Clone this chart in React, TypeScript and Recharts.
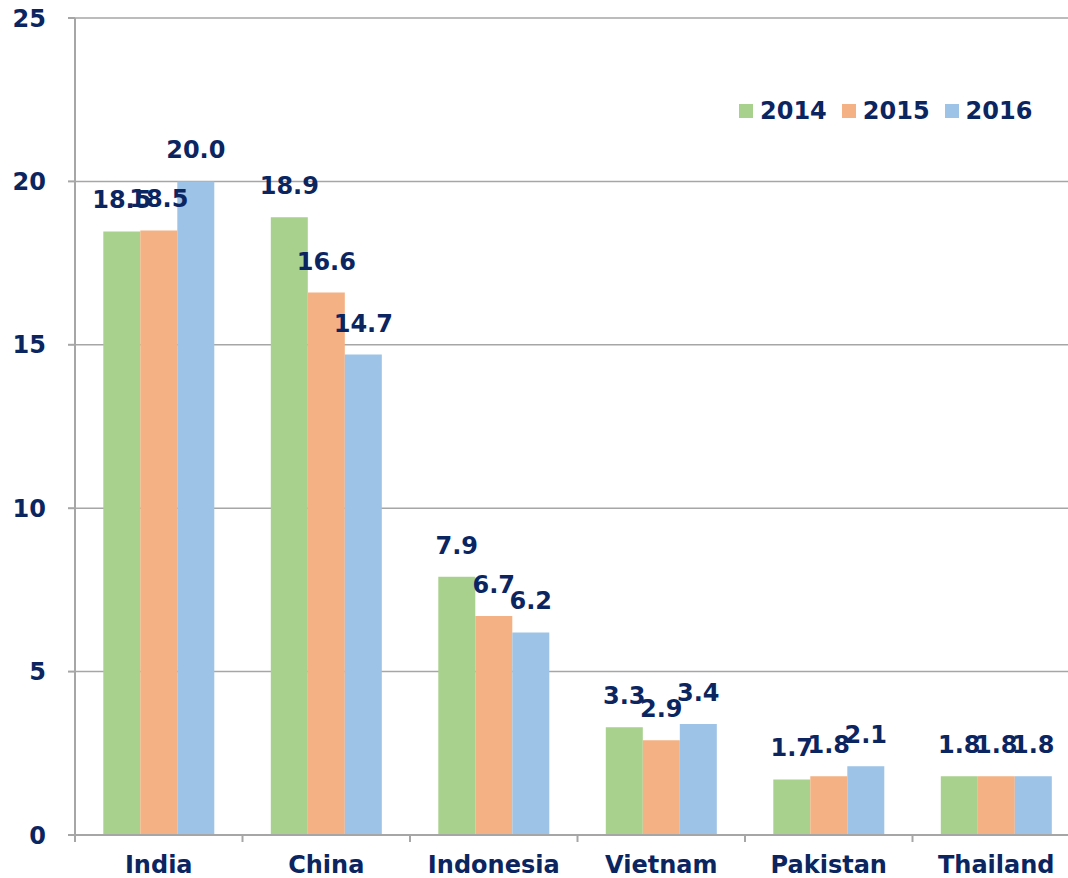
import React from 'react';
import { BarChart, Bar, XAxis, YAxis, CartesianGrid, Legend, LabelList } from 'recharts';

const categories = ['India', 'China', 'Indonesia', 'Vietnam', 'Pakistan', 'Thailand'];
const values2014 = [18.47, 18.9, 7.9, 3.3, 1.7, 1.8];
const values2015 = [18.5, 16.6, 6.7, 2.9, 1.8, 1.8];
const values2016 = [20.0, 14.7, 6.2, 3.4, 2.1, 1.8];
const yTicks = [0, 5, 10, 15, 20, 25];

const data = categories.map((name, i) => ({
  name,
  y2014: values2014[i],
  y2015: values2015[i],
  y2016: values2016[i],
}));

const NAVY = '#0b2561';
const GRID = '#a6a6a6';
const FONT = '"DejaVu Sans", Verdana, sans-serif';
const X_TICK_MARGIN = 21;

const series = [
  { key: 'y2014', name: '2014', color: '#a9d18e' },
  { key: 'y2015', name: '2015', color: '#f4b183' },
  { key: 'y2016', name: '2016', color: '#9dc3e6' },
];

const textStyle = { fill: NAVY, fontSize: 24, fontWeight: 700, fontFamily: FONT };

// category label plus the small tick marks between categories
function CategoryTick(props: any) {
  const { x, y, payload, index, visibleTicksCount } = props;
  const half = payload && payload.offset ? payload.offset : 83.75;
  const top = y - X_TICK_MARGIN;
  const isLast = index === (visibleTicksCount ?? categories.length) - 1;
  return (
    <g>
      <line x1={x - half} x2={x - half} y1={top} y2={top + 7} stroke={GRID} strokeWidth={2} />
      {isLast && <line x1={x + half} x2={x + half} y1={top} y2={top + 7} stroke={GRID} strokeWidth={2} />}
      <text x={x} y={y} dy="0.71em" textAnchor="middle" style={textStyle}>
        {payload.value}
      </text>
    </g>
  );
}

function LegendContent() {
  return (
    <div style={{ display: 'flex', alignItems: 'center', fontFamily: FONT }}>
      {series.map((s) => (
        <div key={s.key} style={{ display: 'flex', alignItems: 'center', marginRight: 15 }}>
          <span style={{ width: 14, height: 14, background: s.color, display: 'inline-block', marginRight: 7 }} />
          <span style={{ color: NAVY, fontSize: 24, fontWeight: 700, lineHeight: '28px' }}>{s.name}</span>
        </div>
      ))}
    </div>
  );
}

export default function App() {
  return (
    <div style={{ position: 'absolute', left: 0, top: 0, width: 1068, height: 878, overflow: 'hidden', background: '#fff' }}>
      <BarChart
        width={1081}
        height={878}
        data={data}
        margin={{ top: 18, right: 1, left: 0, bottom: 0 }}
        barGap={0}
        barCategoryGap="16.9%"
      >
        <CartesianGrid vertical={false} stroke={GRID} strokeWidth={1.5} />
        <XAxis
          dataKey="name"
          height={43}
          stroke={GRID}
          strokeWidth={2}
          tickLine={false}
          tickSize={0}
          tickMargin={X_TICK_MARGIN}
          tick={<CategoryTick />}
          interval={0}
        />
        <YAxis
          width={75}
          domain={[0, 25]}
          ticks={yTicks}
          stroke={GRID}
          strokeWidth={2}
          tickSize={7}
          tickMargin={22}
          tick={textStyle}
        />
        <Legend
          layout="vertical"
          align="center"
          verticalAlign="middle"
          content={<LegendContent />}
          wrapperStyle={{ top: 97, left: 739, width: 330 }}
        />
        {series.map((s) => (
          <Bar key={s.key} dataKey={s.key} name={s.name} fill={s.color} isAnimationActive={false}>
            <LabelList
              dataKey={s.key}
              position="top"
              offset={23}
              formatter={(v: number) => v.toFixed(1)}
              style={textStyle}
            />
          </Bar>
        ))}
      </BarChart>
    </div>
  );
}
